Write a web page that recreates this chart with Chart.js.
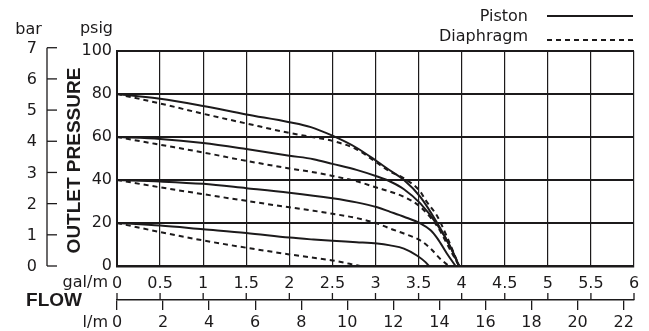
<!DOCTYPE html>
<html>
<head>
<meta charset="utf-8">
<script src="https://cdn.jsdelivr.net/npm/chart.js@4/dist/chart.umd.min.js"></script>
<style>
  html, body { margin: 0; padding: 0; background: #ffffff; }
  #wrap { width: 649px; height: 331px; position: relative; }
</style>
</head>
<body>
<div id="wrap"><canvas id="c" width="649" height="331"></canvas></div>
<script>
// ---- Data (flow in gal/m, pressure in psig) ----
const piston80 = [[0,80],[0.5,77.8],[1,74.4],[1.5,70.5],[2,66.9],[2.25,64.6],[2.5,60.6],[2.78,55],[3.02,48.6],[3.17,44.4],[3.33,40],[3.52,32.2],[3.72,19.8],[3.87,8.8],[3.97,0]];
const diaphragm80 = [[0,80],[0.5,75.6],[1,70.8],[1.5,66.3],[2,61.9],[2.28,59.9],[2.5,58.2],[2.78,54.3],[3.02,47.9],[3.17,43.9],[3.33,40.8],[3.52,34.6],[3.58,30.7],[3.72,22.9],[3.83,13.5],[3.97,0]];
const piston60 = [[0,60],[0.5,59.1],[1,57.2],[1.5,54.4],[2,51.3],[2.28,49.7],[2.5,47.5],[2.78,44.7],[3.02,41.6],[3.17,39.3],[3.33,35.7],[3.52,29.1],[3.72,19],[3.87,8.8],[3.97,0]];
const diaphragm60 = [[0,60],[0.5,56.4],[1,52.8],[1.5,48.9],[2,45.4],[2.28,43.6],[2.5,41.9],[2.78,39.4],[3.02,36.4],[3.17,34.6],[3.33,32.2],[3.52,27.5],[3.72,18.2],[3.87,7.3],[3.97,0]];
const piston40 = [[0,40],[0.5,39.3],[1,38.2],[1.5,36.2],[2,34.1],[2.5,31.5],[2.78,29.6],[3.02,27.3],[3.17,25.2],[3.33,22.9],[3.52,19.8],[3.64,16.6],[3.72,12.7],[3.83,5.7],[3.93,0]];
const diaphragm40 = [[0,40],[0.5,36.6],[1,33.4],[1.5,30.3],[2,27.3],[2.28,25.7],[2.5,24.3],[2.78,22.3],[3.02,19.8],[3.17,17.4],[3.33,15.1],[3.52,11.9],[3.64,8.1],[3.75,3.4],[3.85,0]];
const piston20 = [[0,20],[0.5,18.8],[1,17.1],[1.5,15.4],[2,13.2],[2.28,12.3],[2.5,11.7],[2.78,11.1],[3.02,10.5],[3.17,9.6],[3.33,8.1],[3.48,4.9],[3.58,1.8],[3.62,0]];
const diaphragm20 = [[0,20],[0.5,15.8],[1,11.9],[1.5,8.5],[2,5.4],[2.28,3.8],[2.5,2.6],[2.7,1],[2.82,0]];

const seriesNames = ['Piston', 'Diaphragm'];
const galTicks = [0,0.5,1,1.5,2,2.5,3,3.5,4,4.5,5,5.5,6];
const lpmTicks = [0,2,4,6,8,10,12,14,16,18,20,22];
const psigTicks = [0,20,40,60,80,100];
const barTicks = [0,1,2,3,4,5,6,7];
const PSI_PER_BAR = 14.5038;
const LPM_AXIS_MAX = 22.45;   // l/m value at the 6 gal/m end of the drawn flow scale

const INK = '#1c1a1b';
const FONT = '"DejaVu Sans", sans-serif';
const BOLD = 'bold 19px "Liberation Sans", Arial, sans-serif';

function toPts(arr) { return arr.map(p => ({x: p[0], y: p[1]})); }
function curve(label, arr, dashed) {
  return {
    label: label,
    data: toPts(arr),
    borderColor: INK,
    borderWidth: 2,
    borderDash: dashed ? [5, 4] : [],
    pointRadius: 0,
    fill: false,
    cubicInterpolationMode: 'monotone',
    xAxisID: 'x',
    yAxisID: 'y'
  };
}

const datasets = [
  curve(seriesNames[0], piston80, false),
  curve(seriesNames[1], diaphragm80, true),
  curve(seriesNames[0], piston60, false),
  curve(seriesNames[1], diaphragm60, true),
  curve(seriesNames[0], piston40, false),
  curve(seriesNames[1], diaphragm40, true),
  curve(seriesNames[0], piston20, false),
  curve(seriesNames[1], diaphragm20, true)
];

const decor = {
  id: 'decor',
  beforeDraw(chart) {
    const ctx = chart.ctx;
    ctx.save();
    ctx.fillStyle = '#ffffff';
    ctx.fillRect(0, 0, chart.width, chart.height);
    ctx.restore();
  },
  afterDraw(chart) {
    const ctx = chart.ctx;
    const xs = chart.scales.x, ys = chart.scales.y, ls = chart.scales.lpm;
    ctx.save();
    ctx.strokeStyle = INK;
    ctx.fillStyle = INK;

    // --- bar axis (left), positioned through the psig scale ---
    const barX = 47, barTickEnd = 57;
    const yTop = ys.getPixelForValue(barTicks[barTicks.length - 1] * PSI_PER_BAR);
    const yBot = ys.getPixelForValue(0);
    ctx.lineWidth = 1.3;
    ctx.beginPath();
    ctx.moveTo(barX, yTop); ctx.lineTo(barX, yBot);
    ctx.stroke();
    ctx.font = '16px ' + FONT;
    ctx.textAlign = 'right';
    ctx.textBaseline = 'middle';
    barTicks.forEach(b => {
      const py = ys.getPixelForValue(b * PSI_PER_BAR);
      ctx.beginPath();
      ctx.moveTo(barX, py); ctx.lineTo(barTickEnd, py);
      ctx.stroke();
      ctx.fillText(String(b), 37, py + 1);
    });

    // axis unit labels
    ctx.textAlign = 'center';
    ctx.fillText('bar', 28.5, 30);
    ctx.textAlign = 'right';
    ctx.fillText('psig', 113, 29);

    // OUTLET PRESSURE (rotated)
    ctx.save();
    ctx.translate(75, (ys.top + ys.bottom) / 2 + 2);
    ctx.rotate(-Math.PI / 2);
    ctx.font = BOLD;
    ctx.textAlign = 'center';
    ctx.textBaseline = 'middle';
    ctx.fillText('OUTLET PRESSURE', 0, 0);
    ctx.restore();

    // --- flow axis: gal ticks pointing up from the l/m axis line ---
    const axisY = ls.top;
    ctx.lineWidth = 1.3;
    galTicks.forEach(g => {
      const px = xs.getPixelForValue(g);
      ctx.beginPath();
      ctx.moveTo(px, axisY - 7); ctx.lineTo(px, axisY);
      ctx.stroke();
    });

    ctx.font = '16px ' + FONT;
    ctx.textAlign = 'right';
    ctx.textBaseline = 'middle';
    ctx.fillText('gal/m', 108, 283);
    ctx.fillText('l/m', 108, 323);
    ctx.font = BOLD;
    ctx.textAlign = 'center';
    ctx.fillText('FLOW', 54, 301);

    // --- legend (text right-aligned, sample line on the right) ---
    ctx.font = '16px ' + FONT;
    ctx.textAlign = 'right';
    const legendRows = [
      {ds: chart.data.datasets[0], ty: 17, ly: 16},
      {ds: chart.data.datasets[1], ty: 37, ly: 40}
    ];
    legendRows.forEach(r => {
      ctx.fillStyle = INK;
      ctx.fillText(r.ds.label, 528, r.ty);
      ctx.strokeStyle = r.ds.borderColor;
      ctx.lineWidth = r.ds.borderWidth;
      ctx.setLineDash(r.ds.borderDash);
      ctx.beginPath();
      ctx.moveTo(547, r.ly); ctx.lineTo(633, r.ly);
      ctx.stroke();
      ctx.setLineDash([]);
    });
    ctx.restore();
  }
};

new Chart(document.getElementById('c'), {
  type: 'line',
  data: { datasets: datasets },
  options: {
    responsive: false,
    animation: false,
    devicePixelRatio: 1,
    layout: { padding: { top: 51, right: 15, left: 0, bottom: 0 } },
    plugins: { legend: { display: false }, tooltip: { enabled: false }, title: { display: false } },
    scales: {
      x: {
        type: 'linear', position: 'bottom', weight: 1,
        min: 0, max: 6,
        afterBuildTicks: s => { s.ticks = galTicks.map(v => ({value: v})); },
        afterFit: s => { s.height = 34; },
        grid: { color: INK, lineWidth: 1.2, drawTicks: false },
        border: { display: true, color: INK, width: 2.5 },
        ticks: { color: INK, font: { family: 'DejaVu Sans', size: 16 }, padding: 8, maxRotation: 0, autoSkip: false,
                 callback: v => String(v) }
      },
      lpm: {
        type: 'linear', position: 'bottom', weight: 2,
        min: 0, max: LPM_AXIS_MAX,
        afterBuildTicks: s => { s.ticks = lpmTicks.map(v => ({value: v})); },
        afterFit: s => { s.height = 31; },
        grid: { drawOnChartArea: false, color: INK, lineWidth: 1.3, tickLength: 10 },
        border: { display: true, color: INK, width: 1.5 },
        ticks: { color: INK, font: { family: 'DejaVu Sans', size: 16 }, padding: 3, maxRotation: 0, autoSkip: false,
                 callback: v => String(v) }
      },
      y: {
        type: 'linear', position: 'left',
        min: 0, max: 100,
        afterBuildTicks: s => { s.ticks = psigTicks.map(v => ({value: v})); },
        afterFit: s => { s.width = 117; },
        grid: { color: INK, lineWidth: 2, drawTicks: false },
        border: { display: true, color: INK, width: 2 },
        ticks: { color: INK, font: { family: 'DejaVu Sans', size: 16 }, padding: 5,
                 callback: v => String(v) }
      }
    }
  },
  plugins: [decor]
});
</script>
</body>
</html>
